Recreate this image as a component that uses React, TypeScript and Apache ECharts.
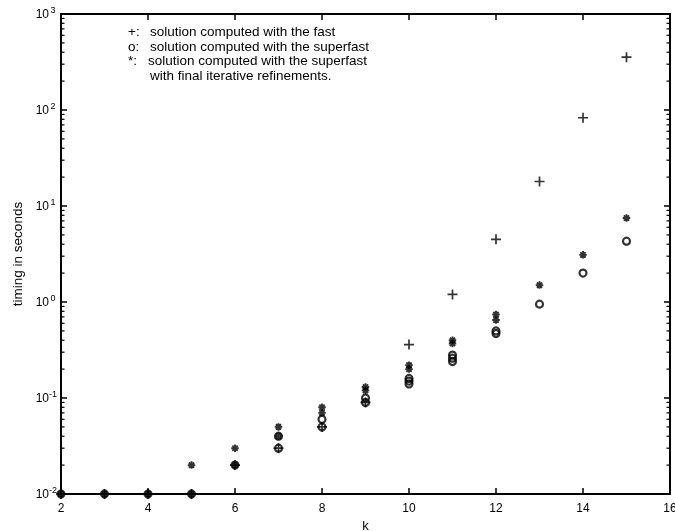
import React, { useEffect, useRef } from "react";
import * as echarts from "echarts";

// k values and timings (seconds)
const plusData: [number, number][] = [
  [2, 0.01], [3, 0.01], [4, 0.01], [5, 0.01], [6, 0.02], [7, 0.03], [8, 0.05],
  [9, 0.09], [10, 0.36], [11, 1.2], [12, 4.5], [13, 18], [14, 83], [15, 355],
];
const circleData: [number, number][] = [
  [2, 0.01], [3, 0.01], [4, 0.01], [5, 0.01], [6, 0.02], [7, 0.03], [7, 0.04],
  [8, 0.05], [8, 0.06], [9, 0.09], [9, 0.1], [10, 0.14], [10, 0.15], [10, 0.16],
  [11, 0.24], [11, 0.26], [11, 0.28], [12, 0.47], [12, 0.5], [13, 0.95], [14, 2.0], [15, 4.3],
];
const starData: [number, number][] = [
  [2, 0.01], [3, 0.01], [4, 0.01], [5, 0.01], [5, 0.02], [6, 0.02], [6, 0.03],
  [7, 0.04], [7, 0.05], [8, 0.07], [8, 0.08], [9, 0.12], [9, 0.13], [10, 0.2], [10, 0.22],
  [11, 0.37], [11, 0.4], [12, 0.65], [12, 0.74], [13, 1.5], [14, 3.1], [15, 7.5],
];
const minorTickValues: number[] = [
  0.02, 0.03, 0.04, 0.05, 0.06, 0.07, 0.08, 0.09,
  0.2, 0.3, 0.4, 0.5, 0.6, 0.7, 0.8, 0.9,
  2, 3, 4, 5, 6, 7, 8, 9,
  20, 30, 40, 50, 60, 70, 80, 90,
  200, 300, 400, 500, 600, 700, 800, 900,
];
const legendLines: [string, string][] = [
  ["+:", "solution computed with the fast"],
  ["o:", "solution computed with the superfast"],
  ["*:", "solution computed with the superfast"],
  ["", "with final iterative refinements."],
];
const xName = "k";
const yName = "timing in seconds";

const FONT = '"Liberation Sans", Arial, Helvetica, sans-serif';
const PLUS = "path://M0,5L10,5M5,0L5,10";
const STAR = "path://M0,5L10,5M5,0L5,10M1.5,1.5L8.5,8.5M1.5,8.5L8.5,1.5";

const mkLine = () => ({ show: true, onZero: false, lineStyle: { color: "#000000", width: 2, opacity: 1 } });
const mkTick = () => ({ show: true, inside: true, length: 6, lineStyle: { color: "#000000", width: 1.5, opacity: 1 } });

export default function App() {
  const ref = useRef<HTMLDivElement>(null);
  useEffect(() => {
    if (!ref.current) return;
    const chart = echarts.init(ref.current, null, { renderer: "svg" });
    chart.setOption({
      animation: false,
      grid: { left: 61, right: 5, top: 14, bottom: 37, containLabel: false, outerBoundsMode: "none" },
      xAxis: [
        {
          type: "value",
          position: "bottom",
          min: 2,
          max: 16,
          interval: 2,
          axisLine: mkLine(),
          axisTick: mkTick(),
          splitLine: { show: false },
          name: xName,
          nameLocation: "middle",
          nameGap: 21,
          nameTextStyle: { fontSize: 13, color: "#000", fontFamily: FONT },
          axisLabel: { show: true, fontSize: 12, color: "#000", margin: 8, fontFamily: FONT },
        },
        {
          type: "value",
          position: "top",
          min: 2,
          max: 16,
          interval: 2,
          axisLine: mkLine(),
          axisTick: mkTick(),
          splitLine: { show: false },
          axisLabel: { show: false },
        },
      ],
      yAxis: [
        {
          type: "log",
          position: "left",
          min: 0.01,
          max: 1000,
          axisLine: mkLine(),
          axisTick: mkTick(),
          splitLine: { show: false },
          name: yName,
          nameLocation: "middle",
          nameRotate: 90,
          nameGap: 36,
          nameTextStyle: { fontSize: 13.5, color: "#000", fontFamily: FONT },
          axisLabel: {
            show: true,
            margin: 4,
            formatter: (v: number) => `{b|10}{s|${Math.round(Math.log10(v))}}`,
            rich: {
              b: { fontSize: 12, color: "#000", fontFamily: FONT },
              s: { fontSize: 9, color: "#000", fontFamily: FONT, padding: [0, 0, 8, 0], width: 8, align: "left" },
            },
          },
        },
        {
          type: "log",
          position: "right",
          min: 0.01,
          max: 1000,
          axisLine: mkLine(),
          axisTick: mkTick(),
          splitLine: { show: false },
          axisLabel: { show: false },
        },
      ],
      graphic: legendLines.flatMap((ln, i) => [
        {
          type: "text",
          x: 128,
          y: 31.5 + i * 14.5,
          silent: true,
          style: { text: ln[0], font: `13.5px ${FONT}`, fill: "#000", verticalAlign: "middle" },
        },
        {
          type: "text",
          x: i === 2 ? 148 : 150,
          y: 31.5 + i * 14.5,
          silent: true,
          style: { text: ln[1], font: `13.5px ${FONT}`, fill: "#000", verticalAlign: "middle" },
        },
      ]),
      series: [
        {
          type: "custom",
          silent: true,
          clip: false,
          data: minorTickValues.map((v) => [2, v]),
          encode: { x: 0, y: 1 },
          renderItem: (_p: any, api: any) => {
            const v = api.value(1);
            const l = api.coord([2, v]);
            const r = api.coord([16, v]);
            return {
              type: "group",
              children: [
                { type: "line", shape: { x1: l[0], y1: l[1], x2: l[0] + 3.5, y2: l[1] }, style: { stroke: "#000", lineWidth: 1.2 } },
                { type: "line", shape: { x1: r[0] - 3.5, y1: r[1], x2: r[0], y2: r[1] }, style: { stroke: "#000", lineWidth: 1.2 } },
              ],
            };
          },
        },
        {
          name: "o",
          type: "scatter",
          data: circleData,
          clip: false,
          symbol: "circle",
          symbolSize: 7,
          itemStyle: { color: "rgba(0,0,0,0)", borderColor: "#000", borderWidth: 2.2 },
        },
        {
          name: "+",
          type: "scatter",
          data: plusData,
          clip: false,
          symbol: PLUS,
          symbolSize: 10,
          itemStyle: { color: "#000", borderColor: "#000", borderWidth: 1.7 },
        },
        {
          name: "*",
          type: "scatter",
          data: starData,
          clip: false,
          symbol: STAR,
          symbolSize: 7.5,
          itemStyle: { color: "#000", borderColor: "#000", borderWidth: 1.9 },
        },
      ],
    });
    return () => chart.dispose();
  }, []);
  return <div ref={ref} style={{ position: "fixed", left: 0, top: 0, width: 675, height: 531 }} />;
}
